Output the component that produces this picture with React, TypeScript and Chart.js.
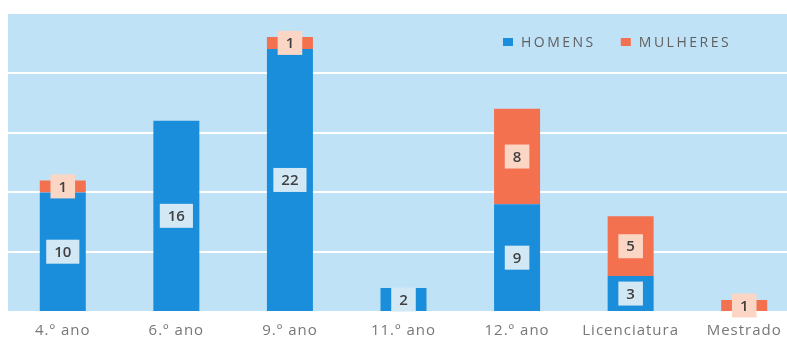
import React, { useEffect, useRef } from "react";
import { Chart, registerables } from "chart.js";

Chart.register(...registerables);

const categories = ["4.º ano", "6.º ano", "9.º ano", "11.º ano", "12.º ano", "Licenciatura", "Mestrado"];
const seriesNames = ["HOMENS", "MULHERES"];
const homens = [10, 16, 22, 2, 9, 3, 0];
const mulheres = [1, 0, 1, 0, 8, 5, 1];
const yTicks = [0, 5, 10, 15, 20, 25];

const BG = "#bfe2f7";
const BLUE = "#1a8ddb";
const ORANGE = "#f4714f";
const BLUE_BOX = "#d3e8f5";
const ORANGE_BOX = "#fcd6c5";

const bgPlugin = {
  id: "bgPlugin",
  beforeDraw(chart: any) {
    const { ctx, chartArea } = chart;
    ctx.save();
    ctx.fillStyle = BG;
    ctx.fillRect(chartArea.left + 2, chartArea.top, chart.width - chartArea.left, chartArea.bottom - chartArea.top);
    ctx.restore();
    ctx.letterSpacing = "1px";
  },
  beforeDatasetsDraw(chart: any) {
    chart.ctx.letterSpacing = "0px";
  },
};

const labelPlugin = {
  id: "labelPlugin",
  afterDatasetsDraw(chart: any) {
    const { ctx } = chart;
    ctx.save();
    ctx.letterSpacing = "0px";
    ctx.font = '600 15px "Open Sans"';
    ctx.textAlign = "center";
    ctx.textBaseline = "middle";
    chart.data.datasets.forEach((ds: any, di: number) => {
      const meta = chart.getDatasetMeta(di);
      meta.data.forEach((el: any, i: number) => {
        const v = ds.data[i];
        if (!v) return;
        const { x, y, base } = el.getProps(["x", "y", "base"], true);
        const cy = (y + base) / 2;
        const txt = String(v);
        const w = ctx.measureText(txt).width + 16;
        const h = 24;
        ctx.fillStyle = di === 0 ? BLUE_BOX : ORANGE_BOX;
        ctx.fillRect(x - w / 2, cy - h / 2, w, h);
        ctx.fillStyle = "#404040";
        ctx.fillText(txt, x, cy + 1);
      });
    });
    ctx.restore();
  },
  afterDraw(chart: any) {
    const { ctx, chartArea } = chart;
    ctx.save();
    ctx.font = '14px "Open Sans"';
    ctx.letterSpacing = "2.5px";
    ctx.textBaseline = "middle";
    ctx.textAlign = "left";
    let x = chartArea.left + 497;
    const cy = chartArea.top + 29;
    chart.data.datasets.forEach((ds: any) => {
      ctx.fillStyle = ds.backgroundColor;
      ctx.fillRect(x, cy - 4, 10, 8);
      const tx = x + 18;
      ctx.fillStyle = "#606060";
      ctx.fillText(ds.label, tx, cy + 1);
      x = tx + ctx.measureText(ds.label).width + 25;
    });
    ctx.restore();
  },
};

export default function App() {
  const ref = useRef<HTMLCanvasElement>(null);
  useEffect(() => {
    if (!ref.current) return;
    const chart = new Chart(ref.current, {
      type: "bar",
      data: {
        labels: categories,
        datasets: [
          { label: seriesNames[0], data: homens, backgroundColor: BLUE, barPercentage: 0.405, categoryPercentage: 1 },
          { label: seriesNames[1], data: mulheres, backgroundColor: ORANGE, barPercentage: 0.405, categoryPercentage: 1 },
        ],
      },
      options: {
        animation: false,
        responsive: false,
        layout: { padding: { left: 6, right: 9, top: 13, bottom: 0 } },
        plugins: { legend: { display: false }, tooltip: { enabled: false } },
        scales: {
          x: {
            stacked: true,
            grid: { display: false, drawTicks: false },
            border: { display: false },
            ticks: { color: "#777", font: { family: "Open Sans", size: 15 }, padding: 10, maxRotation: 0, autoSkip: false },
          },
          y: {
            stacked: true,
            min: yTicks[0],
            max: yTicks[yTicks.length - 1],
            afterBuildTicks: (scale: any) => {
              scale.ticks = yTicks.map((v) => ({ value: v }));
            },
            grid: { color: "#ffffff", lineWidth: 2, drawTicks: false },
            border: { display: false },
            ticks: { display: false },
          },
        },
      },
      plugins: [bgPlugin, labelPlugin],
    } as any);
    return () => chart.destroy();
  }, []);
  return (
    <div style={{ position: "fixed", left: 0, top: 0, width: 787, height: 338, overflow: "hidden", background: "#fff" }}>
      <canvas ref={ref} width={810} height={350} />
    </div>
  );
}
